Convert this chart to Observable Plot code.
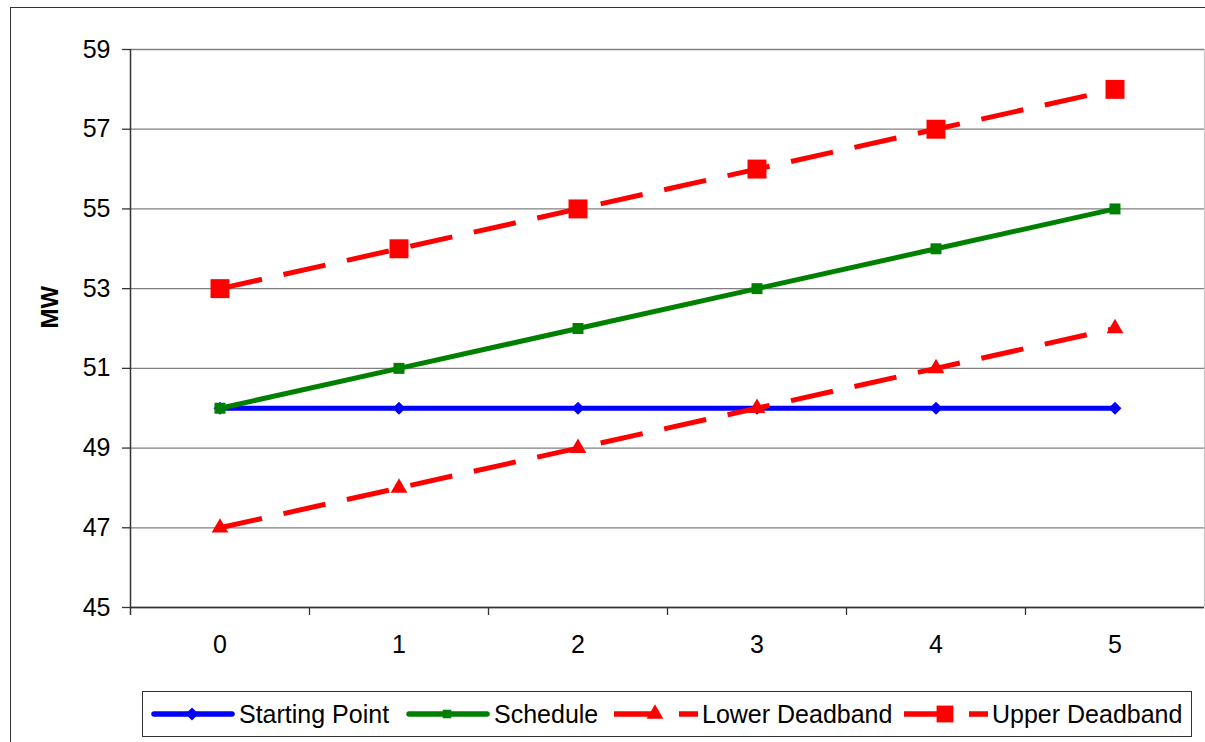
<!DOCTYPE html>
<html>
<head>
<meta charset="utf-8">
<script src="https://cdn.jsdelivr.net/npm/d3@7"></script>
<script src="https://cdn.jsdelivr.net/npm/@observablehq/plot@0.6"></script>
<style>
  html, body { margin: 0; padding: 0; background: #fff; }
  body { width: 1205px; height: 742px; position: relative; overflow: hidden;
         font-family: Arial, "Liberation Sans", sans-serif; }
  #outer { position: absolute; left: 10px; top: 7px; width: 1300px; height: 800px;
           border: 1.5px solid #333; box-sizing: border-box; }
  #chart { position: absolute; left: 0; top: 0; }
  #legend { position: absolute; left: 142px; top: 691px; width: 1050px; height: 46px;
            border: 1.3px solid #333; box-sizing: border-box; background: #fff; }
  .item { position: absolute; top: 0; height: 44px; display: flex; align-items: center; }
  .item span { font-size: 25px; color: #000; margin-left: 4px; white-space: nowrap; }
</style>
</head>
<body>
<div id="outer"></div>
<div id="chart"></div>
<div id="legend"></div>
<script>
// Category axis (time steps) and MW values of each series
const categories = [0, 1, 2, 3, 4, 5];
const startingPoint = [50, 50, 50, 50, 50, 50];
const schedule = [50, 51, 52, 53, 54, 55];
const lowerDeadband = [47, 48, 49, 50, 51, 52];
const upperDeadband = [53, 54, 55, 56, 57, 58];
const yTicks = [45, 47, 49, 51, 53, 55, 57, 59];
const categoryBounds = [-0.5, 0.5, 1.5, 2.5, 3.5, 4.5];
const seriesNames = ["Starting Point", "Schedule", "Lower Deadband", "Upper Deadband"];

const series = [
  {name: seriesNames[0], values: startingPoint, color: "#0000ff", symbol: "diamond2", r: 5.8, dash: null},
  {name: seriesNames[1], values: schedule, color: "#008000", symbol: "square", r: 6.2, dash: null},
  {name: seriesNames[2], values: lowerDeadband, color: "#ff0000", symbol: "triangle", r: 6.2, dash: "43,22"},
  {name: seriesNames[3], values: upperDeadband, color: "#ff0000", symbol: "square", r: 10.7, dash: "43,22"}
];

const rows = series.flatMap(s => categories.map((c, i) => ({series: s.name, x: c, y: s.values[i]})));

const axisColor = "#333";
const marks = [
  Plot.gridY(yTicks, {stroke: "#808080", strokeOpacity: 1, strokeWidth: 1.3}),
  Plot.ruleX([5.5], {stroke: "#c8c8c8", strokeWidth: 1.3}),
  Plot.ruleY([45], {stroke: axisColor, strokeWidth: 1.5}),
  Plot.ruleX([categoryBounds[0]], {y1: 59, y2: 45, insetBottom: -8, stroke: axisColor, strokeWidth: 1.5}),
  Plot.ruleX(categoryBounds.slice(1), {y1: 45, y2: 45, insetBottom: -8, stroke: axisColor, strokeWidth: 1.3}),
  Plot.axisY(yTicks, {tickSize: 8, tickPadding: 12, fontSize: 25, stroke: axisColor, strokeWidth: 1.3, fill: "#000", label: null}),
  Plot.axisX(categories, {tickSize: 0, tickPadding: 28, fontSize: 25, fill: "#000", label: null, tickFormat: d => String(d)}),
  Plot.text(["MW"], {frameAnchor: "left", dx: -80, rotate: -90, fontWeight: "bold", fontSize: 24, fill: "#000"})
];

for (const s of series) {
  const data = rows.filter(d => d.series === s.name);
  marks.push(Plot.line(data, {
    x: "x", y: "y", stroke: s.color, strokeWidth: 5,
    strokeDasharray: s.dash || undefined, strokeLinecap: s.dash ? "butt" : "round"
  }));
  marks.push(Plot.dot(data, {x: "x", y: "y", symbol: s.symbol, r: s.r, fill: s.color, stroke: "none"}));
}

const chart = Plot.plot({
  width: 1205,
  height: 670,
  marginTop: 49,
  marginBottom: 63,
  marginLeft: 130,
  marginRight: 1,
  style: {fontFamily: "Arial, 'Liberation Sans', sans-serif", fontSize: "25px", background: "transparent", overflow: "visible"},
  x: {domain: [-0.5, 5.5], axis: null},
  y: {domain: [45, 59], axis: null},
  marks
});
document.getElementById("chart").appendChild(chart);

// Legend: line swatch with the series marker, then the series name
const legendPos = [8, 263, 471, 761];
const legend = d3.select("#legend");
series.forEach((s, i) => {
  const item = legend.append("div").attr("class", "item").style("left", legendPos[i] + "px");
  const sw = item.append("svg").attr("width", 84).attr("height", 24);
  sw.append("line")
    .attr("x1", s.dash ? 0 : 3).attr("x2", s.dash ? 84 : 81).attr("y1", 12).attr("y2", 12)
    .attr("stroke", s.color).attr("stroke-width", 5.5)
    .attr("stroke-linecap", s.dash ? "butt" : "round")
    .attr("stroke-dasharray", s.dash);
  const sym = {diamond2: d3.symbolDiamond2, square: d3.symbolSquare, triangle: d3.symbolTriangle}[s.symbol];
  const r = s.symbol === "square" && s.r > 8 ? 9.5 : s.symbol === "square" ? 4.8 : s.r;
  sw.append("path")
    .attr("transform", "translate(41,12)")
    .attr("d", d3.symbol(sym, r * r * Math.PI)())
    .attr("fill", s.color);
  item.append("span").text(s.name);
});
</script>
</body>
</html>
